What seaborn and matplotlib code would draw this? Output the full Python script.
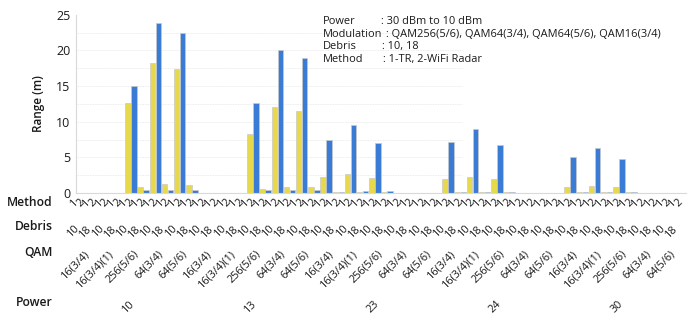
import matplotlib
matplotlib.use("Agg")
import matplotlib.pyplot as plt
import matplotlib.transforms as mtransforms
import seaborn as sns
import pandas as pd
import numpy as np

# ---- data ----
powers = [10, 13, 23, 24, 30]
qams = ["16(3/4)", "16(3/4)(1)", "256(5/6)", "64(3/4)", "64(5/6)"]
debris = [10, 18]
methods = [1, 2]

# values per power, ordered QAM -> Debris -> Method
range_p10 = [0, 0, 0, 0, 0, 0, 0, 0, 12.6, 15.0, 0.85, 0.45, 18.2, 23.8, 1.2, 0.45, 17.4, 22.5, 1.1, 0.45]
range_p13 = [0, 0, 0, 0, 0, 0, 0, 0, 8.3, 12.6, 0.55, 0.4, 12.1, 20.0, 0.85, 0.4, 11.5, 18.9, 0.85, 0.4]
range_p23 = [2.3, 7.5, 0.15, 0.2, 2.7, 9.5, 0.15, 0.25, 2.1, 7.0, 0.15, 0.25, 0, 0, 0, 0, 0, 0, 0, 0]
range_p24 = [1.9, 7.2, 0.15, 0.2, 2.3, 9.0, 0.15, 0.2, 1.9, 6.7, 0.15, 0.2, 0, 0, 0, 0, 0, 0, 0, 0]
range_p30 = [0.85, 5.0, 0.1, 0.15, 1.0, 6.35, 0.15, 0.2, 0.85, 4.8, 0.1, 0.15, 0, 0, 0, 0, 0, 0, 0, 0]
range_values = [range_p10, range_p13, range_p23, range_p24, range_p30]

info_labels = ["Power", "Modulation", "Debris", "Method"]
info_values = [": 30 dBm to 10 dBm",
               ": QAM256(5/6), QAM64(3/4), QAM64(5/6), QAM16(3/4)",
               ": 10, 18",
               ": 1-TR, 2-WiFi Radar"]

rows = []
pos = 0
for p, vals in zip(powers, range_values):
    k = 0
    for q in qams:
        for d in debris:
            for m in methods:
                rows.append(dict(pos=pos, Power=p, QAM=q, Debris=d, Method=str(m), Range=vals[k]))
                k += 1
                pos += 1
df = pd.DataFrame(rows)
n = len(df)

# ---- style ----
sns.set_theme(style="white")
plt.rcParams["font.family"] = ["Open Sans", "DejaVu Sans"]
W, H = 699, 322
fig = plt.figure(figsize=(W / 100, H / 100), dpi=100)
ax_left, ax_right, ax_top, ax_bot = 76, 686, 14.7, 193
ax = fig.add_axes([ax_left / W, 1 - ax_bot / H, (ax_right - ax_left) / W, (ax_bot - ax_top) / H])

palette = {"1": "#E8D84C", "2": "#3A7BD5"}
sns.barplot(data=df, x="pos", y="Range", hue="Method", dodge=False, palette=palette,
            width=0.9, edgecolor="#c8c8c8", linewidth=0.5, legend=False, ax=ax, saturation=1)

ax.set_xlim(-0.5, n - 0.5)
ax.set_ylim(0, 25)
ax.set_yticks([0, 5, 10, 15, 20, 25])
ax.set_yticklabels(["0", "5", "10", "15", "20", "25"], fontsize=9, color="#1a1a1a")
ax.tick_params(axis="y", length=0, pad=4)
ax.set_ylabel("Range (m)", fontsize=8.5, fontweight="semibold", color="#1a1a1a", labelpad=8)
ax.set_xlabel("")
ax.set_xticks(np.arange(n))
ax.set_xticklabels([])
ax.tick_params(axis="x", length=4, width=0.6, color="#bbbbbb", direction="out")
for s in ["top", "right"]:
    ax.spines[s].set_visible(False)
for s in ["left", "bottom"]:
    ax.spines[s].set_color("#d9d9d9")
    ax.spines[s].set_linewidth(0.8)

gx_end = (462 - ax_left) / (ax_right - ax_left)
for gy in np.arange(2.5, 25, 2.5):
    ax.axhline(gy, xmin=0, xmax=gx_end, color="#e6e6e6", linewidth=0.6, linestyle=(0, (1, 1)), zorder=0)

# ---- hierarchical x labels ----
trans = mtransforms.blended_transform_factory(ax.transData, fig.transFigure)
fy = lambda py: 1 - py / H
lab_kw = dict(transform=trans, rotation=45, ha="right", va="top", fontsize=7.8, color="#1a1a1a")

for i, r in df.iterrows():
    ax.text(i + 0.3, fy(197), r["Method"], **lab_kw)
# debris groups
for g in range(n // 2):
    d = df.iloc[g * 2]["Debris"]
    ax.text(g * 2 + 0.5, fy(223), str(d), **lab_kw)
# qam groups
for g in range(n // 4):
    q = df.iloc[g * 4]["QAM"]
    ax.text(g * 4 + 1.5 + 0.6, fy(248), q, **lab_kw)
# power groups
for g in range(n // 20):
    p = df.iloc[g * 20]["Power"]
    ax.text(g * 20 + 9.5, fy(299), str(p), **lab_kw)

row_kw = dict(transform=fig.transFigure, ha="right", va="center", fontsize=8.7,
              fontweight="semibold", color="#1a1a1a")
fig.text(53 / W, fy(203), "Method", **row_kw)
fig.text(53 / W, fy(226), "Debris", **row_kw)
fig.text(53 / W, fy(253), "QAM", **row_kw)
fig.text(53 / W, fy(303), "Power", **row_kw)

# ---- info box ----
val_x = [381, 386, 382, 383]
for j, (lab, val) in enumerate(zip(info_labels, info_values)):
    yy = fy(22 + j * 12.4)
    fig.text(323 / W, yy, lab, ha="left", va="center", fontsize=7.9, color="#1a1a1a")
    fig.text(val_x[j] / W, yy, val, ha="left", va="center", fontsize=7.9, color="#1a1a1a")

fig.savefig("out.png", dpi=100, facecolor="white")
